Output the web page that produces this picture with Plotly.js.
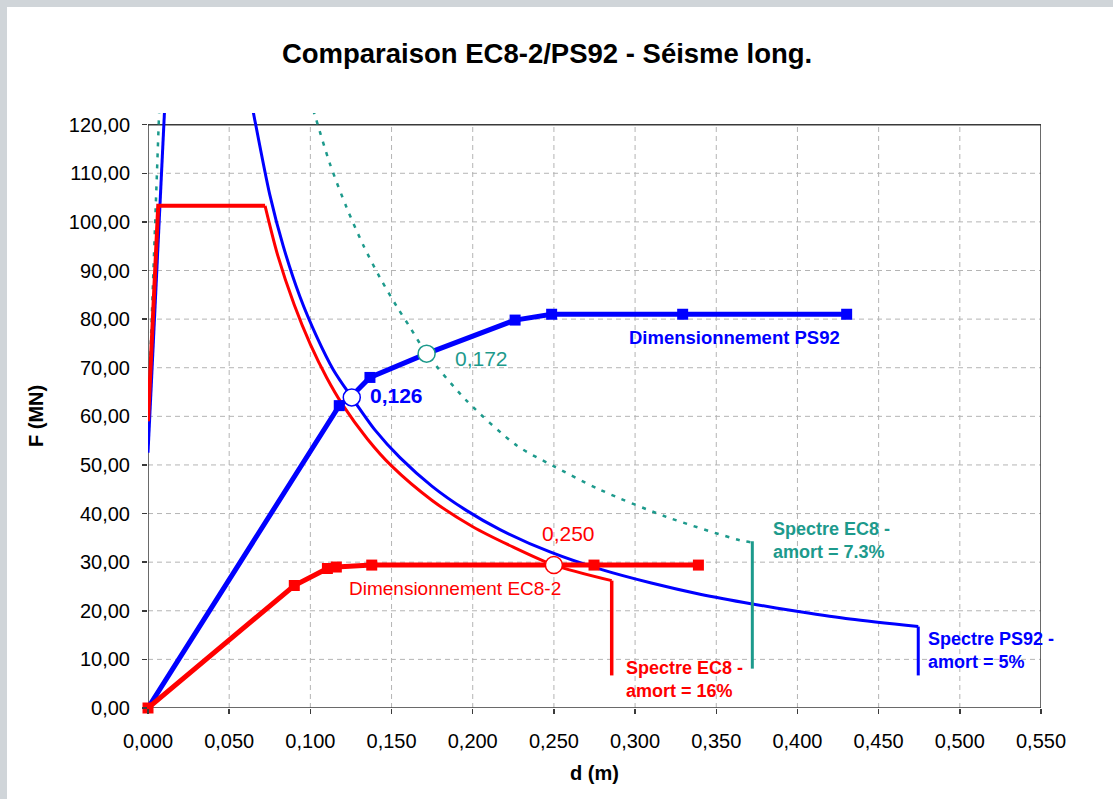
<!DOCTYPE html>
<html>
<head>
<meta charset="utf-8">
<script src="https://cdn.plot.ly/plotly-3.0.1.min.js"></script>
<style>
  html, body { margin: 0; padding: 0; background: #ffffff; }
  #chart { width: 1113px; height: 799px; }
  .bar-top { position: absolute; left: 0; top: 0; width: 1113px; height: 7px; background: #d0d5d9; }
  .bar-left { position: absolute; left: 0; top: 0; width: 7px; height: 799px; background: #d0d5d9; }
</style>
</head>
<body>
<div id="chart"></div>
<div class="bar-top"></div>
<div class="bar-left"></div>
<script>
// ---- Data ----
const xTickVals = [0, 0.05, 0.10, 0.15, 0.20, 0.25, 0.30, 0.35, 0.40, 0.45, 0.50, 0.55];
const xTickText = ['0,000', '0,050', '0,100', '0,150', '0,200', '0,250', '0,300', '0,350', '0,400', '0,450', '0,500', '0,550'];
const yTickVals = [0, 10, 20, 30, 40, 50, 60, 70, 80, 90, 100, 110, 120];
const yTickText = ['0,00', '10,00', '20,00', '30,00', '40,00', '50,00', '60,00', '70,00', '80,00', '90,00', '100,00', '110,00', '120,00'];

// Spectre PS92 - amort = 5% (blue)
const ps92RiseD = [0.000, 0.0102];
const ps92RiseF = [52.5, 123.0];
const ps92CurveD = [0.0646, 0.0653, 0.075, 0.0833, 0.0936, 0.1039, 0.1141, 0.1255, 0.140, 0.1552, 0.175, 0.1963, 0.2168, 0.2476, 0.280, 0.310, 0.340, 0.3722, 0.4016, 0.4324, 0.4744];
const ps92CurveF = [123.0, 121.8, 105.6, 95.0, 84.6, 76.4, 69.6, 63.9, 57.1, 51.5, 45.6, 40.6, 36.7, 32.1, 28.4, 25.7, 23.4, 21.4, 19.8, 18.3, 16.75];
const ps92DropD = [0.4744, 0.4744];
const ps92DropF = [16.75, 6.7];

// Spectre EC8 - amort = 16% (red)
const ec8RiseD = [0.000, 0.0063, 0.0721];
const ec8RiseF = [59.0, 103.3, 103.3];
const ec8CurveD = [0.0721, 0.080, 0.090, 0.100, 0.110, 0.120, 0.135, 0.150, 0.175, 0.200, 0.225, 0.250, 0.2856];
const ec8CurveF = [103.3, 93.0, 83.0, 74.8, 68.0, 62.3, 55.4, 49.8, 42.7, 37.3, 33.1, 29.4, 26.2];
const ec8DropD = [0.2856, 0.2856];
const ec8DropF = [26.2, 6.7];

// Spectre EC8 - amort = 7.3% (teal)
const ec8bRiseD = [0.000, 0.0069];
const ec8bRiseF = [59.0, 123.0];
const ec8bCurveD = [0.1017, 0.1029, 0.1121, 0.1224, 0.1326, 0.1429, 0.1532, 0.1614, 0.1716, 0.1963, 0.2271, 0.2496, 0.2784, 0.3195, 0.3646, 0.3711];
const ec8bCurveF = [123.0, 121.8, 111.9, 102.9, 95.2, 88.5, 82.6, 78.3, 72.9, 63.2, 54.0, 49.8, 44.9, 39.3, 34.5, 34.1];
const ec8bDropD = [0.3722, 0.3722];
const ec8bDropF = [34.3, 8.1];

// Dimensionnement PS92 (blue, thick)
const ps92DimD = [0.000, 0.1178, 0.1255, 0.1367, 0.1716, 0.2261, 0.2486, 0.3293, 0.4303];
const ps92DimF = [0.0, 62.2, 64.2, 68.0, 72.9, 79.8, 81.0, 81.0, 81.0];
const ps92MarkD = [0.1178, 0.1367, 0.2261, 0.2486, 0.3293, 0.4303];
const ps92MarkF = [62.2, 68.0, 79.8, 81.0, 81.0, 81.0];

// Dimensionnement EC8-2 (red, thick)
const ec8DimD = [0.000, 0.0901, 0.1105, 0.1160, 0.1378, 0.2500, 0.2747, 0.3390];
const ec8DimF = [0.0, 25.2, 28.7, 29.0, 29.4, 29.4, 29.4, 29.4];
const ec8MarkD = [0.000, 0.0901, 0.1105, 0.1160, 0.1378, 0.2747, 0.3390];
const ec8MarkF = [0.0, 25.2, 28.7, 29.0, 29.4, 29.4, 29.4];

// Intersection points (open circles)
const crossD = [0.1255, 0.1716, 0.2500];
const crossF = [63.9, 72.9, 29.4];
const crossLabels = ['0,126', '0,172', '0,250'];

// ---- Styling ----
const BLUE = '#0000ff', RED = '#ff0000', TEAL = '#1d9a8c';
const FONT = 'Liberation Sans, Arial, sans-serif';
const Y_TOP = 120, X_RIGHT = 0.55;
const TEAL_DASH = '4px,7px';

const lin = (x, y, color, width, dash) => ({ x: x, y: y, mode: 'lines', hoverinfo: 'skip',
  line: { color: color, width: width, dash: dash || 'solid' } });
const spl = (x, y, color, width, dash) => ({ x: x, y: y, mode: 'lines', hoverinfo: 'skip',
  line: { color: color, width: width, dash: dash || 'solid', shape: 'spline', smoothing: 0.8 } });

const traces = [
  lin(ps92RiseD, ps92RiseF, BLUE, 3),
  spl(ps92CurveD, ps92CurveF, BLUE, 3),
  lin(ps92DropD, ps92DropF, BLUE, 3),
  lin(ec8bRiseD, ec8bRiseF, TEAL, 2.5, TEAL_DASH),
  spl(ec8bCurveD, ec8bCurveF, TEAL, 2.5, TEAL_DASH),
  lin(ec8bDropD, ec8bDropF, TEAL, 3),
  lin(ec8RiseD, ec8RiseF, RED, 4),
  spl(ec8CurveD, ec8CurveF, RED, 3),
  lin(ec8DropD, ec8DropF, RED, 3.5),
  lin(ps92DimD, ps92DimF, BLUE, 5),
  { x: ps92MarkD, y: ps92MarkF, mode: 'markers', marker: { color: BLUE, symbol: 'square', size: 11 }, hoverinfo: 'skip' },
  lin(ec8DimD, ec8DimF, RED, 5),
  { x: ec8MarkD, y: ec8MarkF, mode: 'markers', marker: { color: RED, symbol: 'square', size: 11 }, cliponaxis: false, hoverinfo: 'skip' },
  { x: crossD, y: crossF, mode: 'markers', cliponaxis: false,
    marker: { color: '#ffffff', symbol: 'circle', size: 17, line: { color: [BLUE, TEAL, RED], width: 1.5 } }, hoverinfo: 'skip' }
];

// grid + frame shapes built from tick arrays
const shapes = [];
xTickVals.forEach(v => {
  if (v > 0 && v < X_RIGHT) shapes.push({ type: 'line', xref: 'x', yref: 'y', x0: v, x1: v, y0: 0, y1: Y_TOP, layer: 'below',
    line: { color: '#b4b4b4', width: 1, dash: '5px,4px' } });
});
yTickVals.forEach(v => {
  if (v > 0 && v < Y_TOP) shapes.push({ type: 'line', xref: 'x', yref: 'y', x0: 0, x1: X_RIGHT, y0: v, y1: v, layer: 'below',
    line: { color: '#b4b4b4', width: 1, dash: '5px,4px' } });
});
shapes.push({ type: 'rect', xref: 'x', yref: 'y', x0: 0, x1: X_RIGHT, y0: 0, y1: Y_TOP, layer: 'below',
  line: { color: '#3a3a3a', width: 1.5 }, fillcolor: 'rgba(0,0,0,0)' });

const ann = (x, y, text, color, size, bold, xanchor) => ({
  x: x, y: y, xref: 'x', yref: 'y', text: bold ? '<b>' + text + '</b>' : text, showarrow: false,
  xanchor: xanchor || 'left', yanchor: 'middle', align: 'left',
  font: { family: FONT, size: size, color: color }
});

const annotations = [
  ann(crossD[0] + 0.0100, 64.3, crossLabels[0], BLUE, 21, true),
  ann(crossD[1] + 0.0163, 72.0, crossLabels[1], TEAL, 21, false),
  ann(crossD[2] + 0.0089, 36.0, crossLabels[2], RED, 21, false, 'center'),
  ann(0.2950, 76.3, 'Dimensionnement PS92', BLUE, 18.5, true),
  ann(0.1225, 24.5, 'Dimensionnement EC8-2', RED, 19, false),
  ann(0.2932, 5.8, 'Spectre EC8 -<br>amort = 16%', RED, 18, true),
  ann(0.3835, 34.5, 'Spectre EC8 -<br>amort = 7.3%', TEAL, 18, true),
  ann(0.4790, 11.8, 'Spectre PS92 -<br>amort = 5%', BLUE, 18, true),
  { xref: 'paper', yref: 'paper', x: 0.5, y: -0.109, text: '<b>d (m)</b>', showarrow: false,
    xanchor: 'center', yanchor: 'middle', font: { family: FONT, size: 20, color: '#000' } },
  { xref: 'paper', yref: 'paper', x: -0.1254, y: 0.4908, text: '<b>F (MN)</b>', showarrow: false, textangle: -90,
    xanchor: 'center', yanchor: 'middle', font: { family: FONT, size: 20, color: '#000' } }
];

const layout = {
  width: 1113, height: 799,
  paper_bgcolor: '#ffffff', plot_bgcolor: '#ffffff',
  margin: { l: 148, r: 72, t: 113, b: 91 },
  showlegend: false,
  title: { text: '<b>Comparaison EC8-2/PS92 - Séisme long.</b>', xref: 'container', yref: 'container',
    x: 0.4915, y: 1 - 53 / 799, xanchor: 'center', yanchor: 'middle',
    font: { family: FONT, size: 27.5, color: '#000' } },
  xaxis: { range: [0, X_RIGHT], tickmode: 'array', tickvals: xTickVals, ticktext: xTickText,
    showgrid: false, zeroline: false, showline: false, ticks: 'outside', ticklen: 5, tickcolor: '#3a3a3a', tickwidth: 1.5,
    ticklabelstandoff: 10, tickfont: { family: FONT, size: 20, color: '#000' } },
  yaxis: { range: [0, 122.4], tickmode: 'array', tickvals: yTickVals, ticktext: yTickText,
    showgrid: false, zeroline: false, showline: false, ticks: 'outside', ticklen: 5, tickcolor: '#3a3a3a', tickwidth: 1.5,
    ticklabelstandoff: 8, tickfont: { family: FONT, size: 20, color: '#000' } },
  shapes: shapes,
  annotations: annotations
};

Plotly.newPlot('chart', traces, layout, { staticPlot: true, displayModeBar: false });
</script>
</body>
</html>
